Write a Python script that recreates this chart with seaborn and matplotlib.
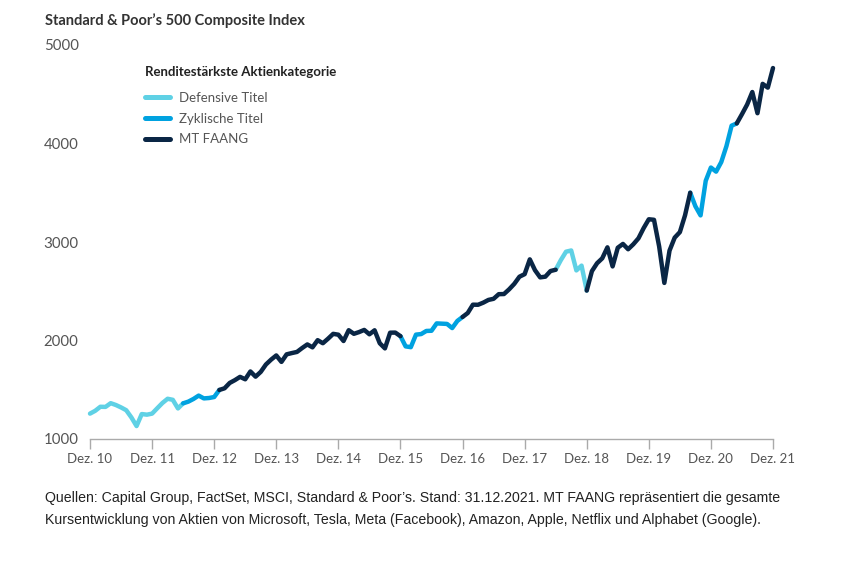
import numpy as np
import pandas as pd
import matplotlib
matplotlib.use("Agg")
import matplotlib.pyplot as plt
import seaborn as sns

# Monthly S&P 500 closes, Dez. 2010 .. Dez. 2021
values = [
    1257.64,
    1286.12, 1327.22, 1325.83, 1363.61, 1345.20, 1320.64, 1292.28, 1218.89, 1131.42, 1253.30, 1246.96, 1257.60,
    1312.41, 1365.68, 1408.47, 1397.91, 1310.33, 1362.16, 1379.32, 1406.58, 1440.67, 1412.16, 1416.18, 1426.19,
    1498.11, 1514.68, 1569.19, 1597.57, 1630.74, 1606.28, 1685.73, 1632.97, 1681.55, 1756.54, 1805.81, 1848.36,
    1782.59, 1859.45, 1872.34, 1883.95, 1923.57, 1960.23, 1930.67, 2003.37, 1972.29, 2018.05, 2067.56, 2058.90,
    1994.99, 2104.50, 2067.89, 2085.51, 2107.39, 2063.11, 2103.84, 1972.18, 1920.03, 2079.36, 2080.41, 2043.94,
    1940.24, 1932.23, 2059.74, 2065.30, 2096.95, 2098.86, 2173.60, 2170.95, 2168.27, 2126.15, 2198.81, 2238.83,
    2278.87, 2363.64, 2362.72, 2384.20, 2411.80, 2423.41, 2470.30, 2471.65, 2519.36, 2575.26, 2647.58, 2673.61,
    2823.81, 2713.83, 2640.87, 2648.05, 2705.27, 2718.37, 2816.29, 2901.52, 2913.98, 2711.74, 2760.17, 2506.85,
    2704.10, 2784.49, 2834.40, 2945.83, 2752.06, 2941.76, 2980.38, 2926.46, 2976.74, 3037.56, 3140.98, 3230.78,
    3225.52, 2954.22, 2584.59, 2912.43, 3044.31, 3100.29, 3271.12, 3500.31, 3363.00, 3269.96, 3621.63, 3756.07,
    3714.24, 3811.15, 3972.89, 4181.17, 4204.11, 4297.50, 4395.26, 4522.68, 4307.54, 4605.38, 4567.00, 4766.18,
]

categories = ["Defensive Titel", "Zyklische Titel", "MT FAANG"]
# segments: (start month index, end month index, category)
seg_starts = [0, 18, 25, 60, 72, 90, 96, 116, 125]
seg_ends = [18, 25, 60, 72, 90, 96, 116, 125, 132]
seg_cats = ["Defensive Titel", "Zyklische Titel", "MT FAANG", "Zyklische Titel", "MT FAANG",
            "Defensive Titel", "MT FAANG", "Zyklische Titel", "MT FAANG"]

tick_labels = ["Dez. 10", "Dez. 11", "Dez. 12", "Dez. 13", "Dez. 14", "Dez. 15",
               "Dez. 16", "Dez. 17", "Dez. 18", "Dez. 19", "Dez. 20", "Dez. 21"]
y_ticks = [1000, 2000, 3000, 4000, 5000]

colors = {"Defensive Titel": "#5fd1e5", "Zyklische Titel": "#00a2e0", "MT FAANG": "#0a2645"}

LEG_TITLE = "Renditestärkste Aktienkategorie"
rows = []
for sid, (s, e, c) in enumerate(zip(seg_starts, seg_ends, seg_cats)):
    for m in range(s, e + 1):
        rows.append({"Monat": m, "Index": values[m], LEG_TITLE: c, "seg": sid})
df = pd.DataFrame(rows)

sns.set_theme(style="white")
plt.rcParams["font.family"] = ["Lato", "DejaVu Sans"]

fig = plt.figure(figsize=(8.62, 5.62), dpi=100)
W, H = 862, 562
ax = fig.add_axes([90 / W, 1 - 439 / H, (773 - 90) / W, (439 - 45) / H])

sns.lineplot(data=df, x="Monat", y="Index", hue=LEG_TITLE, hue_order=categories,
             units="seg", estimator=None, palette=colors, linewidth=3.2,
             solid_joinstyle="round", solid_capstyle="round", ax=ax, sort=False)
for ln in ax.get_lines():
    ln.set_clip_on(False)

ax.set_xlim(0, 132)
ax.set_ylim(1000, 5000)
ax.set_xlabel("")
ax.set_ylabel("")
ax.set_xticks(np.arange(0, 133, 12))
ax.set_xticklabels(tick_labels)
ax.set_yticks(y_ticks)
ax.set_yticklabels([str(v) for v in y_ticks])
for s in ["top", "right", "left"]:
    ax.spines[s].set_visible(False)
ax.spines["bottom"].set_color("#aaaaaa")
ax.spines["bottom"].set_linewidth(1.0)
ax.tick_params(axis="x", bottom=True, length=7, width=1.0, color="#aaaaaa",
               labelsize=9.5, labelcolor="#555555", pad=3)
ax.tick_params(axis="y", left=False, labelsize=10.8, labelcolor="#555555")
for lbl in ax.get_yticklabels():
    lbl.set_horizontalalignment("left")
ax.tick_params(axis="y", pad=38 * 0.72)
ax.grid(False)

sns.move_legend(ax, "upper left", bbox_to_anchor=(145 / W, 1 - 66 / H),
                bbox_transform=fig.transFigure, frameon=False, title=LEG_TITLE,
                fontsize=9.5, handlelength=1.9, handletextpad=0.65,
                labelspacing=0.66, borderpad=0, borderaxespad=0)
leg = ax.get_legend()
leg.get_title().set_fontweight("bold")
leg.get_title().set_fontsize(9.5)
leg.get_title().set_color("#222222")
leg._legend_box.align = "left"
leg._legend_box.sep = 10
for t in leg.get_texts():
    t.set_color("#555555")
for h in leg.legend_handles:
    h.set_linewidth(3.6)

fig.text(45 / W, 1 - 21 / H, "Standard & Poor’s 500 Composite Index", fontsize=10.5,
         fontweight="bold", color="#333333", ha="left", va="center")

foot = ("Quellen: Capital Group, FactSet, MSCI, Standard & Poor’s. Stand: 31.12.2021. MT FAANG repräsentiert die gesamte\n"
        "Kursentwicklung von Aktien von Microsoft, Tesla, Meta (Facebook), Amazon, Apple, Netflix und Alphabet (Google).")
fig.text(45 / W, 1 - 491 / H, foot, fontsize=10.2, family=["Liberation Sans", "DejaVu Sans"],
         color="#222222", ha="left", va="top", linespacing=1.72)

fig.savefig("out.png", dpi=100)
